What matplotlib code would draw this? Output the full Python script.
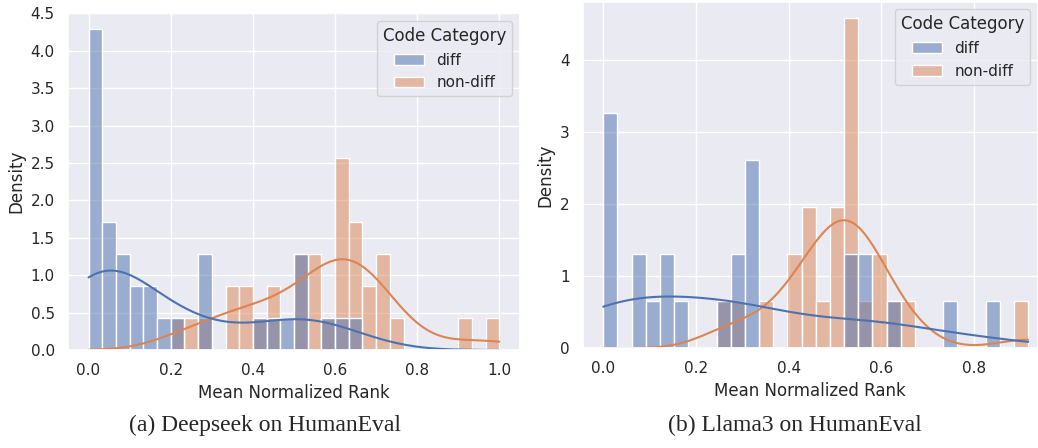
import numpy as np
import pandas as pd
import matplotlib
matplotlib.use('Agg')
import matplotlib.pyplot as plt
import seaborn as sns

# %% data: counts per histogram bin (30 bins from 0 to the max rank)
N_BINS = 30
DS_MAX = 1.0
LL_MAX = 0.9167

ds_diff = [10, 4, 3, 2, 2, 1, 1, 0, 3, 0, 0, 0, 1, 1, 1,
           3, 0, 1, 1, 1, 0, 0, 0, 0, 0, 0, 0, 0, 0, 0]
ds_nondiff = [0, 0, 0, 0, 0, 0, 1, 1, 1, 0, 2, 2, 1, 2, 0,
              3, 3, 1, 6, 4, 2, 3, 1, 0, 0, 0, 0, 1, 0, 1]
ll_diff = [5, 0, 2, 1, 2, 1, 0, 0, 1, 2, 4, 0, 0, 0, 0,
           0, 0, 2, 2, 0, 1, 0, 0, 0, 1, 0, 0, 1, 0, 0]
ll_nondiff = [0, 0, 0, 0, 0, 0, 0, 0, 1, 1, 0, 1, 0, 2, 3,
              1, 3, 7, 1, 2, 1, 1, 0, 0, 0, 0, 0, 0, 0, 1]

categories = ['diff', 'non-diff']
captions = ['(a) Deepseek on HumanEval', '(b) Llama3 on HumanEval']


def bin_values(counts, hi):
    # one value per sample, placed in the bin it was counted in
    w = hi / len(counts)
    pos = (np.arange(len(counts)) + 0.5) * w
    pos[0], pos[-1] = 0.0, hi
    return np.repeat(pos, counts)


def make_df(diff, nondiff, hi):
    return pd.DataFrame({
        'Mean Normalized Rank': np.concatenate([bin_values(diff, hi), bin_values(nondiff, hi)]),
        'Code Category': [categories[0]] * sum(diff) + [categories[1]] * sum(nondiff),
    })


# %% plot
sns.set_theme(style='darkgrid')
plt.rcParams['font.family'] = ['DejaVu Sans']
fig = plt.figure(figsize=(10.38, 4.48), dpi=100)
W, H = 1038, 448
ax1 = fig.add_axes([68 / W, 1 - 350 / H, 452 / W, 336.7 / H])
ax2 = fig.add_axes([582.7 / W, 1 - 348.3 / H, (W - 582.7) / W, 346.6 / H])

for ax, (diff, nondiff, hi) in zip([ax1, ax2], [(ds_diff, ds_nondiff, DS_MAX), (ll_diff, ll_nondiff, LL_MAX)]):
    df = make_df(diff, nondiff, hi)
    sns.histplot(df, x='Mean Normalized Rank', hue='Code Category', hue_order=categories,
                 bins=N_BINS, binrange=(0, hi), stat='density', kde=True, ax=ax)
    sns.move_legend(ax, 'upper right')

ax1.set_xticks(np.arange(0, 1.01, 0.2))
ax1.set_yticks(np.arange(0, 4.51, 0.5))
ax2.set_xlim(-0.0444, 0.9379)
ax2.set_xticks(np.arange(0, 0.81, 0.2))

fig.text(265 / W, 1 - 425 / H, captions[0], ha='center', va='center',
         family='Liberation Serif', size=17)
fig.text(795 / W, 1 - 425 / H, captions[1], ha='center', va='center',
         family='Liberation Serif', size=17)

fig.savefig('out.png', dpi=100)
